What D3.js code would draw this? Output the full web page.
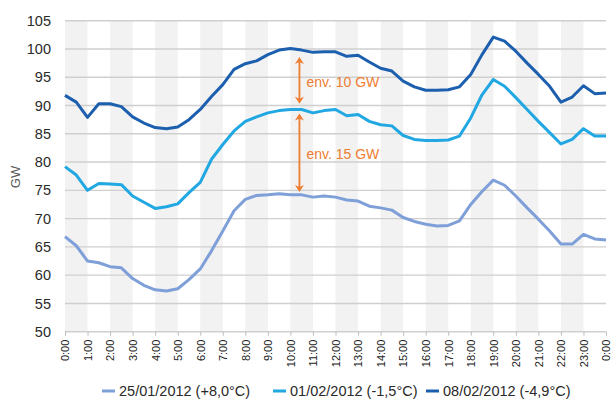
<!DOCTYPE html>
<html>
<head>
<meta charset="utf-8">
<script src="https://d3js.org/d3.v7.min.js"></script>
<style>
  body { margin: 0; background: #fff; }
  text { font-family: "Liberation Sans", Arial, sans-serif; }
</style>
</head>
<body>
<script>
// half-hour time grid (hours)
var times = [0,0.5,1,1.5,2,2.5,3,3.5,4,4.5,5,5.5,6,6.5,7,7.5,8,8.5,9,9.5,10,10.5,11,11.5,
             12,12.5,13,13.5,14,14.5,15,15.5,16,16.5,17,17.5,18,18.5,19,19.5,20,20.5,21,21.5,
             22,22.5,23,23.5,24];

var hourTicks = [0,1,2,3,4,5,6,7,8,9,10,11,12,13,14,15,16,17,18,19,20,21,22,23,24];
var hourLabels = ["0:00","1:00","2:00","3:00","4:00","5:00","6:00","7:00","8:00","9:00","10:00",
                  "11:00","12:00","13:00","14:00","15:00","16:00","17:00","18:00","19:00","20:00",
                  "21:00","22:00","23:00","0:00"];
var yTicks = [50,55,60,65,70,75,80,85,90,95,100,105];

var seriesNames = ["25/01/2012 (+8,0°C)", "01/02/2012 (-1,5°C)", "08/02/2012 (-4,9°C)"];
var seriesColors = ["#7f9fd9", "#21a7e2", "#1c5fae"];

var jan25 = [66.8,65.2,62.5,62.2,61.5,61.3,59.4,58.2,57.4,57.2,57.6,59.2,61.1,64.3,67.8,71.4,73.4,74.1,
             74.2,74.4,74.2,74.2,73.8,74.0,73.8,73.3,73.1,72.2,71.9,71.5,70.2,69.5,69.0,68.7,68.8,69.6,
             72.5,74.8,76.8,75.9,74.0,71.9,69.9,67.8,65.5,65.5,67.2,66.4,66.2];
var feb01 = [79.2,77.7,75.0,76.2,76.1,76.0,74.0,72.9,71.8,72.1,72.6,74.6,76.4,80.5,83.1,85.5,87.2,88.0,
             88.7,89.1,89.3,89.3,88.7,89.1,89.3,88.2,88.4,87.2,86.6,86.4,84.7,84.0,83.8,83.8,83.9,84.6,
             87.8,91.9,94.6,93.4,91.4,89.3,87.2,85.2,83.2,84.0,85.9,84.6,84.6];
var feb08 = [91.8,90.6,87.9,90.3,90.3,89.8,88.0,86.9,86.1,85.9,86.2,87.5,89.3,91.6,93.7,96.4,97.4,97.9,
             99.0,99.8,100.1,99.8,99.4,99.5,99.5,98.7,98.9,97.7,96.6,96.1,94.3,93.3,92.7,92.7,92.8,93.3,
             95.5,99.0,102.1,101.4,99.6,97.5,95.5,93.4,90.6,91.5,93.5,92.1,92.2];

// annotation arrows
var arrowX = [10.4, 10.4];
var arrowTop = [98.6, 88.6];
var arrowBottom = [90.3, 74.7];
var arrowText = ["env. 10 GW", "env. 15 GW"];
var arrowTextY = [94.2, 81.4];

var width = 612, height = 401;
var svg = d3.select("body").append("svg")
    .attr("width", width)
    .attr("height", height);

var x = d3.scaleLinear().domain([0, 24]).range([65, 606]);
var y = d3.scaleLinear().domain([50, 105]).range([331.7, 20.7]);

// alternating hour bands
var bands = hourTicks.slice(0, 24).filter(function(h) { return h % 2 === 0; });
svg.append("g").selectAll("rect")
    .data(bands)
    .enter().append("rect")
    .attr("x", function(d) { return x(d); })
    .attr("width", function(d) { return x(d + 1) - x(d); })
    .attr("y", y(105))
    .attr("height", y(50) - y(105))
    .attr("fill", "#f2f2f2");

// gridlines
svg.append("g").selectAll("line")
    .data(yTicks)
    .enter().append("line")
    .attr("x1", x(0)).attr("x2", x(24))
    .attr("y1", function(d) { return y(d); })
    .attr("y2", function(d) { return y(d); })
    .attr("stroke", "#cfcfcf")
    .attr("stroke-width", 1.4);

// y axis
var yAxis = svg.append("g")
    .attr("transform", "translate(" + x(0) + ",0)")
    .call(d3.axisLeft(y).tickValues(yTicks).tickSize(0).tickPadding(14));
yAxis.select(".domain").remove();
yAxis.selectAll("text")
    .attr("font-size", 14.5)
    .attr("font-family", "Liberation Sans, Arial, sans-serif")
    .attr("fill", "#2a2a2a");

// x axis
var xAxis = svg.append("g")
    .attr("transform", "translate(0," + y(50) + ")")
    .call(d3.axisBottom(x).tickValues(hourTicks).tickSize(4)
      .tickFormat(function(d, i) { return hourLabels[i]; }));
xAxis.select(".domain").remove();
xAxis.selectAll("line").attr("stroke", "#bdbdbd");
xAxis.selectAll("text")
    .attr("font-size", 11)
    .attr("font-family", "Liberation Sans, Arial, sans-serif")
    .attr("fill", "#222")
    .attr("transform", "rotate(-90)")
    .attr("text-anchor", "end")
    .attr("x", -8)
    .attr("y", 0)
    .attr("dy", "0.35em");

// y title
svg.append("text")
    .attr("transform", "translate(20,177) rotate(-90)")
    .attr("text-anchor", "middle")
    .attr("font-size", 13)
    .attr("fill", "#595959")
    .text("GW");

// lines
var line = d3.line()
    .x(function(d, i) { return x(times[i]); })
    .y(function(d) { return y(d); });

[jan25, feb01, feb08].forEach(function(s, k) {
  svg.append("path")
      .datum(s)
      .attr("d", line)
      .attr("fill", "none")
      .attr("stroke", seriesColors[k])
      .attr("stroke-width", 3)
      .attr("stroke-linejoin", "round");
});

// arrows
var orange = "#ed7d31";
function head(px, py, dir) {
  // dir = -1 points up, 1 points down
  return "M" + px + "," + py +
    "L" + (px - 4.5) + "," + (py - dir * 7) +
    "L" + px + "," + (py - dir * 5) +
    "L" + (px + 4.5) + "," + (py - dir * 7) + "Z";
}
arrowX.forEach(function(ax, i) {
  var px = x(ax), y1 = y(arrowTop[i]), y2 = y(arrowBottom[i]);
  svg.append("line")
      .attr("x1", px).attr("x2", px)
      .attr("y1", y1 + 4).attr("y2", y2 - 4)
      .attr("stroke", orange)
      .attr("stroke-width", 1.8);
  svg.append("path").attr("d", head(px, y1, -1)).attr("fill", orange);
  svg.append("path").attr("d", head(px, y2, 1)).attr("fill", orange);
  svg.append("text")
      .attr("x", px + 7)
      .attr("y", y(arrowTextY[i]))
      .attr("dy", "0.35em")
      .attr("font-size", 14)
      .attr("fill", orange)
      .text(arrowText[i]);
});

// legend
var legendX = [102, 273, 426];
var legend = svg.append("g");
seriesNames.forEach(function(name, k) {
  legend.append("line")
      .attr("x1", legendX[k]).attr("x2", legendX[k] + 13)
      .attr("y1", 391).attr("y2", 391)
      .attr("stroke", seriesColors[k])
      .attr("stroke-width", 3);
  legend.append("text")
      .attr("x", legendX[k] + 17)
      .attr("y", 391)
      .attr("dy", "0.35em")
      .attr("font-size", 14.5)
      .attr("fill", "#2a2a2a")
      .text(name);
});
</script>
</body>
</html>
